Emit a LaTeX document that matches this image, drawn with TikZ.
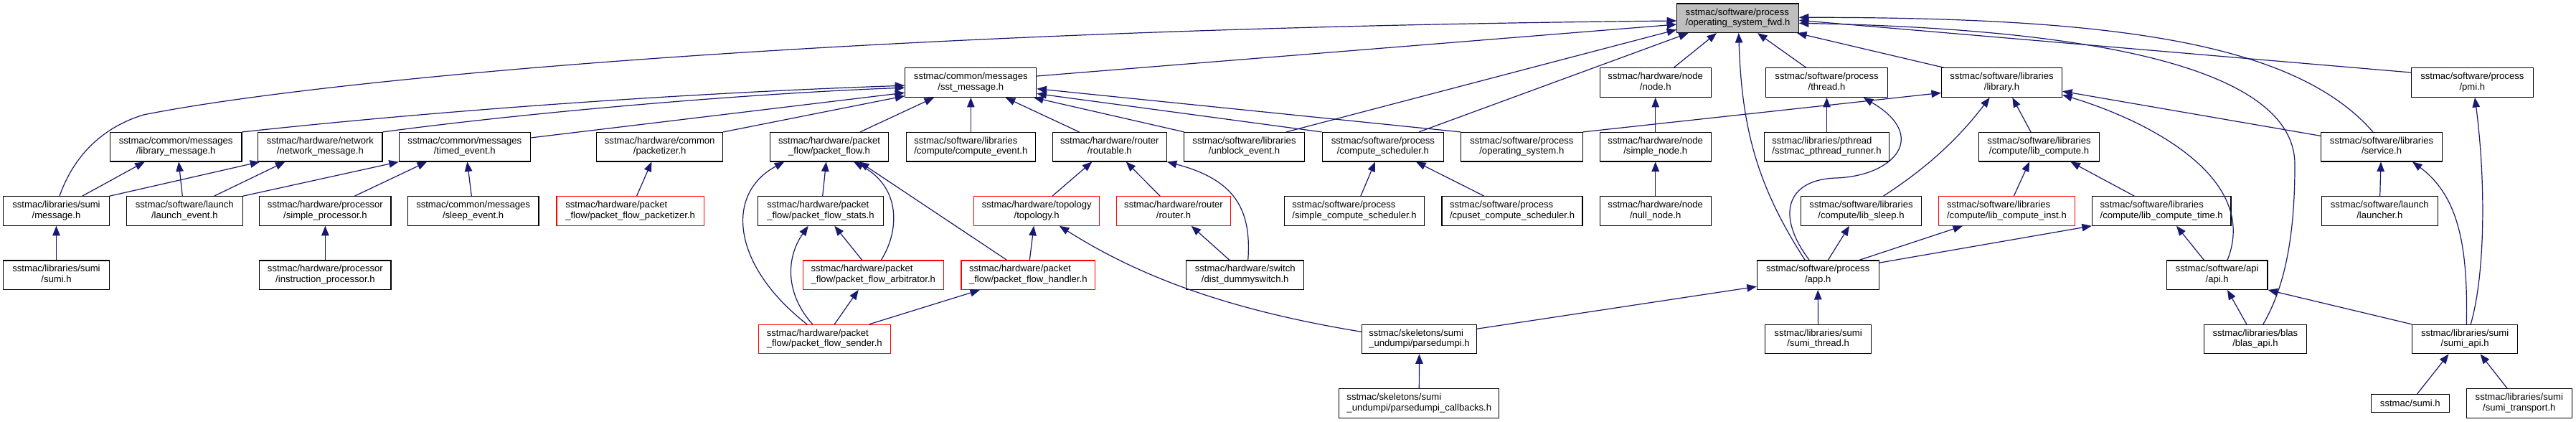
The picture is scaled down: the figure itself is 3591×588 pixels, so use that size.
\documentclass[tikz,border=0pt]{standalone}
\usepackage{fontspec}
\setmainfont{Liberation Sans}
\usetikzlibrary{arrows.meta,calc}
\definecolor{mblue}{HTML}{191970}
\definecolor{rootgray}{HTML}{BFBFBF}
\newcommand\twol[2]{\setbox0=\hbox{#1}\setbox2=\hbox{#2}\ifdim\wd0<\wd2\relax\begin{tabular}{@{}l@{}}#1\\#2\end{tabular}\else\begin{tabular}{@{}c@{}}#1\\#2\end{tabular}\fi}
\newcommand\mkbox[7]{\node[#1,minimum width=#5pt] (#2) at (#3,#4) {\twol{#6}{#7}};}
\begin{document}
\begin{tikzpicture}[x=1pt,y=-1pt,
 box/.style={draw=black, line width=1.1pt, fill=white, rectangle, minimum height=40.5pt, inner sep=0pt, font=\fontsize{13.1}{14.3}\selectfont},
 redbox/.style={box, draw=red},
 rootbox/.style={box, fill=rootgray},
 e/.style={draw=mblue, line width=1.2pt, {Triangle[length=13.5pt,width=10.5pt]}-}]
\fill[white] (0,0) rectangle (3591,588);
\useasboundingbox (0,0) rectangle (3591,588);
% L0
\mkbox{rootbox}{root}{2422.5}{25.3}{169.6}{sstmac/software/process}{/operating\_system\_fwd.h}
% L1
\mkbox{box}{sst}{1353.3}{115.2}{183.1}{sstmac/common/messages}{/sst\_message.h}
\mkbox{box}{node}{2307.7}{115.2}{155}{sstmac/hardware/node}{/node.h}
\mkbox{box}{thread}{2546.5}{115.2}{169.6}{sstmac/software/process}{/thread.h}
\mkbox{box}{library}{2790.5}{115.2}{168.1}{sstmac/software/libraries}{/library.h}
\mkbox{box}{pmi}{3446.3}{115.2}{169.8}{sstmac/software/process}{/pmi.h}
% L2
\mkbox{box}{libmsg}{245.2}{204.7}{183.5}{sstmac/common/messages}{/library\_message.h}
\mkbox{box}{netmsg}{446.4}{204.7}{173.2}{sstmac/hardware/network}{/network\_message.h}
\mkbox{box}{timed}{647.8}{204.7}{182.9}{sstmac/common/messages}{/timed\_event.h}
\mkbox{box}{packetizer}{919.7}{204.7}{176}{sstmac/hardware/common}{/packetizer.h}
\mkbox{box}{pflow}{1156}{204.7}{165.3}{sstmac/hardware/packet}{\_flow/packet\_flow.h}
\mkbox{box}{cevent}{1353.3}{204.7}{180}{sstmac/software/libraries}{/compute/compute\_event.h}
\mkbox{box}{routable}{1546.8}{204.7}{159}{sstmac/hardware/router}{/routable.h}
\mkbox{box}{unblock}{1734.5}{204.7}{168.2}{sstmac/software/libraries}{/unblock\_event.h}
\mkbox{box}{csched}{1927.9}{204.7}{169.7}{sstmac/software/process}{/compute\_scheduler.h}
\mkbox{box}{ossys}{2121.3}{204.7}{169.6}{sstmac/software/process}{/operating\_system.h}
\mkbox{box}{snode}{2307.7}{204.7}{155}{sstmac/hardware/node}{/simple\_node.h}
\mkbox{box}{pthr}{2546.5}{204.7}{173.6}{sstmac/libraries/pthread}{/sstmac\_pthread\_runner.h}
\mkbox{box}{libcomp}{2842.5}{204.7}{168.5}{sstmac/software/libraries}{/compute/lib\_compute.h}
\mkbox{box}{service}{3320}{204.7}{168.6}{sstmac/software/libraries}{/service.h}
% L3
\mkbox{box}{msg}{78.5}{294}{147.5}{sstmac/libraries/sumi}{/message.h}
\mkbox{box}{launchev}{257.3}{294}{161.7}{sstmac/software/launch}{/launch\_event.h}
\mkbox{box}{sproc}{453.4}{294}{183.1}{sstmac/hardware/processor}{/simple\_processor.h}
\mkbox{box}{sleep}{659.6}{294}{182.8}{sstmac/common/messages}{/sleep\_event.h}
\mkbox{redbox}{pfpack}{878.6}{294}{205.2}{sstmac/hardware/packet}{\_flow/packet\_flow\_packetizer.h}
\mkbox{box}{stats}{1144}{294}{174.6}{sstmac/hardware/packet}{\_flow/packet\_flow\_stats.h}
\mkbox{redbox}{topo}{1445.2}{294}{174.7}{sstmac/hardware/topology}{/topology.h}
\mkbox{redbox}{router}{1636}{294}{158.5}{sstmac/hardware/router}{/router.h}
\mkbox{box}{ssched}{1888}{294}{194.6}{sstmac/software/process}{/simple\_compute\_scheduler.h}
\mkbox{box}{cpuset}{2108}{294}{196}{sstmac/software/process}{/cpuset\_compute\_scheduler.h}
\mkbox{box}{nullnode}{2307.7}{294}{155}{sstmac/hardware/node}{/null\_node.h}
\mkbox{box}{libsleep}{2594.5}{294}{168.5}{sstmac/software/libraries}{/compute/lib\_sleep.h}
\mkbox{redbox}{libinst}{2797.4}{294}{189.8}{sstmac/software/libraries}{/compute/lib\_compute\_inst.h}
\mkbox{box}{libtime}{3013.2}{294}{193.6}{sstmac/software/libraries}{/compute/lib\_compute\_time.h}
\mkbox{box}{launcher}{3317.3}{294}{161.7}{sstmac/software/launch}{/launcher.h}
% L4
\mkbox{box}{sumih}{78.5}{383.2}{147.5}{sstmac/libraries/sumi}{/sumi.h}
\mkbox{box}{iproc}{453.4}{383.2}{183.1}{sstmac/hardware/processor}{/instruction\_processor.h}
\mkbox{redbox}{arb}{1217.3}{383.2}{196}{sstmac/hardware/packet}{\_flow/packet\_flow\_arbitrator.h}
\mkbox{redbox}{handler}{1433.3}{383.2}{186.6}{sstmac/hardware/packet}{\_flow/packet\_flow\_handler.h}
\mkbox{box}{dds}{1735.7}{383.2}{163.7}{sstmac/hardware/switch}{/dist\_dummyswitch.h}
\mkbox{box}{app}{2534.2}{383.2}{169.7}{sstmac/software/process}{/app.h}
\mkbox{box}{api}{3090.6}{383.2}{140.7}{sstmac/software/api}{/api.h}
% L5
\mkbox{redbox}{sender}{1149.3}{472.6}{184}{sstmac/hardware/packet}{\_flow/packet\_flow\_sender.h}
\mkbox{box}{parsed}{1978.5}{472.6}{160.1}{sstmac/skeletons/sumi}{\_undumpi/parsedumpi.h}
\mkbox{box}{sumithr}{2534.6}{472.6}{147.5}{sstmac/libraries/sumi}{/sumi\_thread.h}
\mkbox{box}{blas}{3143.9}{472.6}{143}{sstmac/libraries/blas}{/blas\_api.h}
\mkbox{box}{sumiapi}{3436.1}{472.6}{147.1}{sstmac/libraries/sumi}{/sumi\_api.h}
% L6
\mkbox{box}{pcb}{1978.3}{562.1}{223}{sstmac/skeletons/sumi}{\_undumpi/parsedumpi\_callbacks.h}
\node[box,minimum width=108.9pt,minimum height=25pt] (ssumi) at (3359.8,562) {sstmac/sumi.h};
\mkbox{box}{stransport}{3511.8}{562.1}{146.8}{sstmac/libraries/sumi}{/sumi\_transport.h}
% edges into root
\draw[e] ($(root.west)+(0,3.7)$) .. controls (1200,40) and (450,110) .. (200,160) .. controls (135,180) and (100,225) .. ($(msg.north)+(4.5,0)$);
\draw[e] ($(root.west)+(0,8.7)$) -- ($(sst.east)+(0,-9.2)$);
\draw[e] ($(root.west)+(0,16)$) -- ($(unblock.north)+(58.5,0)$);
\draw[e] ($(root.south)+(-68.9,0)$) -- ($(csched.north)+(50,0)$);
\draw[e] ($(root.south)+(-29.5,0)$) -- ($(node.north)+(25.3,0)$);
\draw[e] ($(root.south)+(1.2,0)$) .. controls (2428,180) and (2450,260) .. ($(app.north)+(-18,0)$);
\draw[e] ($(root.south)+(27.5,0)$) -- ($(thread.north)+(-28.5,0)$);
\draw[e] ($(root.south)+(82.5,0)$) -- ($(library.north)+(-80,0)$);
\draw[e] ($(root.east)+(0,-1)$) .. controls (2950,24) and (3200,60) .. ($(service.north)+(-12,0)$);
\draw[e] ($(root.east)+(0,3)$) -- ($(pmi.west)+(0,-14.2)$);
\draw[e] ($(root.east)+(0,7)$) .. controls (2900,40) and (3200,90) .. (3199,230) .. controls (3199,330) and (3185,400) .. ($(blas.north)+(10.9,0)$);
% edges into sst_message
\draw[e] ($(sst.west)+(0,4)$) .. controls (1000,128) and (650,150) .. (libmsg.north east);
\draw[e] ($(sst.west)+(0,7)$) .. controls (1050,130) and (750,155) .. (netmsg.north east);
\draw[e] ($(sst.west)+(0,14)$) -- ($(timed.east)+(0,-12.7)$);
\draw[e] ($(sst.west)+(0,18.5)$) -- (packetizer.north east);
\draw[e] ($(sst.south)+(-51.3,0)$) -- ($(pflow.north)+(43,0)$);
\draw[e] (sst.south) -- (cevent.north);
\draw[e] ($(sst.south)+(48.4,0)$) -- ($(routable.north)+(-42.3,0)$);
\draw[e] ($(sst.south)+(87.7,0)$) -- ($(unblock.north)+(-83.7,0)$);
\draw[e] ($(sst.east)+(0,15.3)$) -- (csched.north west);
\draw[e] ($(sst.east)+(0,8.5)$) -- (ossys.north west);
% other upper edges
\draw[e] ($(library.west)+(0,14.2)$) -- (ossys.north east);
\draw[e] (node.south) -- (snode.north);
\draw[e] (snode.south) -- (nullnode.north);
\draw[e] (thread.south) -- (pthr.north);
\draw[e] ($(thread.south)+(51.2,0)$) .. controls (2690,190) and (2640,245) .. (2560,248) .. controls (2490,250) and (2475,300) .. ($(app.north)+(-12,0)$);
\draw[e] ($(library.south)+(-16.8,0)$) .. controls (2740,180) and (2700,225) .. ($(libsleep.north)+(30.9,0)$);
\draw[e] ($(library.south)+(14.8,0)$) -- ($(libcomp.north)+(-11.5,0)$);
\draw[e] ($(library.east)+(0,12)$) -- ($(service.west)+(0,-15.3)$);
\draw[e] ($(library.east)+(0,17)$) .. controls (3000,170) and (3150,250) .. ($(api.north)+(14.4,0)$);
\draw[e] ($(service.south)+(-1,0)$) -- ($(launcher.north)+(0.4,0)$);
\draw[e] ($(service.south)+(43,0)$) .. controls (3430,275) and (3440,350) .. ($(sumiapi.north)+(2.3,0)$);
\draw[e] ($(pmi.south)+(3.7,0)$) .. controls (3465,250) and (3465,380) .. ($(sumiapi.north)+(8.1,0)$);
\draw[e] ($(libcomp.south)+(-13.5,0)$) -- ($(libinst.north)+(9.9,0)$);
\draw[e] ($(libcomp.south)+(43.9,0)$) -- ($(libtime.north)+(-37.9,0)$);
\draw[e] ($(libsleep.south)+(-16.5,0)$) -- ($(app.north)+(14.1,0)$);
\draw[e] ($(libinst.south)+(-61.4,0)$) -- ($(app.north)+(57.6,0)$);
\draw[e] (libtime.south west) -- ($(app.east)+(0,-17)$);
\draw[e] ($(libtime.south)+(20.8,0)$) -- ($(api.north)+(-18.2,0)$);
\draw[e] (app.south) -- (sumithr.north);
\draw[e] ($(app.west)+(0,16.1)$) -- ($(parsed.east)+(0,-14.4)$);
\draw[e] ($(topo.south)+(31.6,0)$) .. controls (1580,380) and (1700,430) .. ($(parsed.west)+(0,-10.3)$);
\draw[e] (parsed.south) -- (pcb.north);
% router / topology
\draw[e] ($(routable.south)+(-24.5,0)$) -- ($(topo.north)+(21.7,0)$);
\draw[e] ($(routable.south)+(22.9,0)$) -- ($(router.north)+(-18.8,0)$);
\draw[e] (routable.south east) .. controls (1720,250) and (1745,290) .. ($(dds.north)+(4,0)$);
\draw[e] ($(router.south)+(24.7,0)$) -- ($(dds.north)+(-21.7,0)$);
\draw[e] ($(topo.south)+(-4,0)$) -- ($(handler.north)+(2,0)$);
% packet flow
\draw[e] ($(pflow.south)+(42,0)$) -- ($(handler.north)+(-29.7,0)$);
\draw[e] ($(pflow.south)+(34,0)$) .. controls (1255,260) and (1255,320) .. ($(arb.north)+(11,0)$);
\draw[e] ($(pflow.south)+(-4.3,0)$) -- ($(stats.north)+(2.7,0)$);
\draw[e] ($(pflow.south)+(-62.7,0)$) .. controls (1010,270) and (1020,370) .. ($(sender.north)+(-24.3,0)$);
\draw[e] ($(stats.south)+(-17.3,0)$) .. controls (1095,360) and (1095,410) .. ($(sender.north)+(-16.6,0)$);
\draw[e] ($(stats.south)+(19.3,0)$) -- ($(arb.north)+(-15.6,0)$);
\draw[e] ($(arb.south)+(-20.6,0)$) -- ($(sender.north)+(14,0)$);
\draw[e] ($(handler.south)+(-67.3,0)$) -- ($(sender.north)+(62.4,0)$);
\draw[e] ($(packetizer.south)+(-11.3,0)$) -- ($(pfpack.north)+(8.9,0)$);
% left part
\draw[e] ($(timed.south)+(3.6,0)$) -- ($(sleep.north)+(-2.3,0)$);
\draw[e] (timed.south west) -- (launchev.north east);
\draw[e] ($(timed.south)+(-52.7,0)$) -- ($(sproc.north)+(40.9,0)$);
\draw[e] ($(libmsg.south)+(-43.5,0)$) -- ($(msg.north)+(36.2,0)$);
\draw[e] ($(libmsg.south)+(3.9,0)$) -- ($(launchev.north)+(-3,0)$);
\draw[e] ($(netmsg.south west)+(3,0)$) -- (msg.north east);
\draw[e] ($(netmsg.south)+(-49,0)$) -- ($(launchev.north)+(41.2,0)$);
\draw[e] (msg.south) -- (sumih.north);
\draw[e] (sproc.south) -- (iproc.north);
% schedulers
\draw[e] ($(csched.south)+(-10.9,0)$) -- ($(ssched.north)+(8.8,0)$);
\draw[e] ($(csched.south)+(46.1,0)$) -- ($(cpuset.north)+(-39.1,0)$);
% right part
\draw[e] ($(api.south)+(14.4,0)$) -- ($(blas.north)+(-12.1,0)$);
\draw[e] (api.south east) -- (sumiapi.north west);
\draw[e] ($(sumiapi.south)+(-22.6,0)$) -- ($(ssumi.north)+(9.7,0)$);
\draw[e] ($(sumiapi.south)+(21.5,0)$) -- ($(stransport.north)+(-16.6,0)$);
\end{tikzpicture}
\end{document}
